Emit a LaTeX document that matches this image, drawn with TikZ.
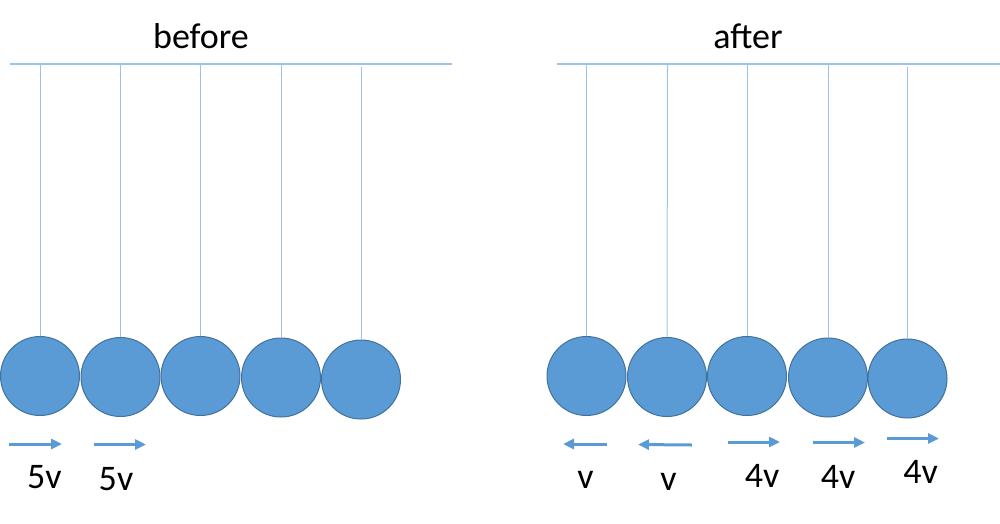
\documentclass[tikz,border=0pt]{standalone}
\usepackage{fontspec}
\setmainfont{Carlito}
\usetikzlibrary{arrows.meta}
\definecolor{ballfill}{HTML}{5B9BD5}
\definecolor{balledge}{HTML}{41719C}
\definecolor{stringc}{HTML}{9DC3E6}
\definecolor{barc}{HTML}{9DC3E6}
\tikzset{
  ball/.style={circle, fill=ballfill, draw=balledge, line width=1pt, minimum size=79pt, inner sep=0pt},
  stringline/.style={draw=stringc, line width=1pt},
  barline/.style={draw=barc, line width=1.2pt},
  vel/.style={draw=ballfill, line width=3pt, -{Triangle[length=11pt,width=10pt]}},
  lbl/.style={font=\fontsize{36}{40}\selectfont, anchor=base, inner sep=0pt, text=black}
}
\begin{document}
\begin{tikzpicture}[x=1pt,y=-1pt]
\useasboundingbox (0,0) rectangle (1000,523);
% titles
\node[lbl] (tb) at (201,48) {before};
\node[lbl] (ta) at (748,48) {after};
% bars
\coordinate (bl1) at (10,64); \coordinate (bl2) at (452,64);
\coordinate (ba1) at (557,64); \coordinate (ba2) at (1000,64);
\draw[barline] (bl1) -- (bl2);
\draw[barline] (ba1) -- (ba2);
% before balls
\node[ball] (b1) at (40,376) {};
\node[ball] (b2) at (120.5,377) {};
\node[ball] (b3) at (200.5,376) {};
\node[ball] (b4) at (281,377.5) {};
\node[ball] (b5) at (361,379.5) {};
% after balls
\node[ball] (a1) at (586.5,376) {};
\node[ball] (a2) at (667,377) {};
\node[ball] (a3) at (747,376) {};
\node[ball] (a4) at (828,377.5) {};
\node[ball] (a5) at (907.5,378.5) {};
% string tops
\coordinate (sb1) at (40,64); \coordinate (sb2) at (120.5,64);
\coordinate (sb3) at (200.5,64); \coordinate (sb4) at (281,65);
\coordinate (sb5) at (361,67);
\coordinate (sa1) at (586.5,64); \coordinate (sa2) at (667.5,64);
\coordinate (sa3) at (747,64); \coordinate (sa4) at (828,65);
\coordinate (sa5) at (907.5,67);
\foreach \i in {1,...,5}{
  \draw[stringline] (sb\i) -- (b\i.north);
  \draw[stringline] (sa\i) -- (a\i.north);
}
% velocity arrows
\coordinate (vb1s) at (9,444); \coordinate (vb1e) at (62,444);
\coordinate (vb2s) at (94,444.5); \coordinate (vb2e) at (146,444.5);
\coordinate (va1s) at (607,444); \coordinate (va1e) at (563,444);
\coordinate (va2s) at (692,445); \coordinate (va2e) at (638,444.5);
\coordinate (va3s) at (728,442); \coordinate (va3e) at (780,442);
\coordinate (va4s) at (813,442.5); \coordinate (va4e) at (865,442.5);
\coordinate (va5s) at (887,438.5); \coordinate (va5e) at (939,438.5);
\draw[vel] (vb1s) -- (vb1e);
\draw[vel] (vb2s) -- (vb2e);
\draw[vel] (va1s) -- (va1e);
\draw[vel] (va2s) -- (va2e);
\draw[vel] (va3s) -- (va3e);
\draw[vel] (va4s) -- (va4e);
\draw[vel] (va5s) -- (va5e);
% labels
\node[lbl] (lb1) at (44.5,488) {5v};
\node[lbl] (lb2) at (116,490) {5v};
\node[lbl] (la1) at (585.5,488) {v};
\node[lbl] (la2) at (668.5,490) {v};
\node[lbl] (la3) at (762,487) {4v};
\node[lbl] (la4) at (838,488) {4v};
\node[lbl] (la5) at (920.5,483) {4v};
\end{tikzpicture}
\end{document}
